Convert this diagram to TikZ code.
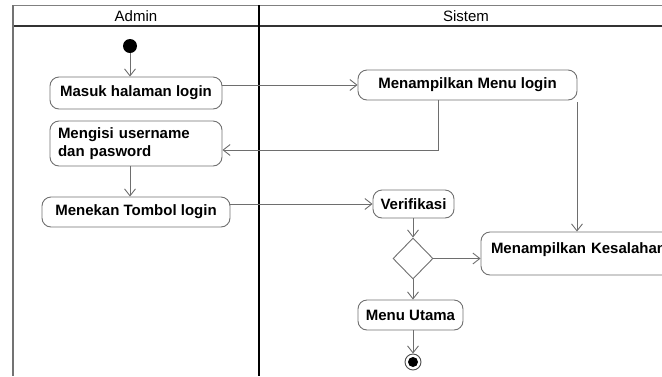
\documentclass[tikz,border=0pt]{standalone}
\usepackage{fontspec}
\setmainfont{Liberation Sans}
\usetikzlibrary{arrows.meta,shapes.geometric,calc}
\definecolor{edge}{HTML}{6E6E6E}
\definecolor{box}{HTML}{707070}
\begin{document}
\begin{tikzpicture}[x=1pt,y=-1pt,
  act/.style={draw=box,line width=0.9pt,rounded corners=9pt,font=\fontsize{15}{18}\selectfont\bfseries,inner sep=0pt,align=center},
  flow/.style={draw=edge,line width=0.9pt,-{Straight Barb[length=7pt,width=11pt]}},
  hdr/.style={font=\fontsize{15}{18}\selectfont}]
\useasboundingbox (0,0) rectangle (662,376);
\clip (0,0) rectangle (662,376);
% swimlanes
\draw[gray,line width=1pt] (13,5) -- (662,5);
\draw[black!80,line width=1.6pt] (13,26) -- (662,26);
\draw[gray!90!black,line width=1.4pt] (13,5) -- (13,376);
\draw[black,line width=1.8pt] (259,5) -- (259,376);
\node[hdr] (adm) at (136,16) {Admin};
\node[hdr] (sis) at (466,16) {Sistem};
% nodes
\node[circle,fill=black,minimum size=14pt,inner sep=0pt] (init) at (130,46) {};
\node[act,minimum width=172pt,minimum height=32pt] (masuk) at (136,93) {Masuk halaman login};
\node[act,minimum height=45pt,text width=156pt,inner xsep=8pt,align=left] (mengisi) at (136,143.5) {Mengisi username\\dan pasword};
\node[act,minimum width=188pt,minimum height=30pt] (menekan) at (136,212) {Menekan Tombol login};
\node[act,minimum width=219pt,minimum height=30pt] (menu) at (467.5,85) {Menampilkan Menu login};
\node[act,minimum width=81pt,minimum height=28pt] (verif) at (413.5,204) {Verifikasi};
\node[diamond,draw=box,line width=0.9pt,minimum width=40pt,minimum height=41pt,inner sep=0pt] (dec) at (413,258.5) {};
\node[act,minimum width=230pt,minimum height=43pt,text width=210pt,align=left,text depth=10pt] (kes) at (596,253.5) {Menampilkan Kesalahan};
\node[act,minimum width=105pt,minimum height=30pt] (utama) at (410.5,315) {Menu Utama};
\node[circle,draw=black!70,line width=0.9pt,minimum size=16pt,inner sep=0pt] (fin) at (413,362) {};
\node[circle,fill=black,minimum size=10pt,inner sep=0pt] (finin) at (fin) {};
% coordinates
\coordinate (c1) at (438,150);
\coordinate (c2) at (577,0);
% connectors
\draw[flow] (init) -- (init |- masuk.north);
\draw[flow] (masuk.east |- menu.west) -- (menu.west);
\draw[flow] (menu.south -| c1) -- (c1) -- (mengisi.east |- c1);
\draw[flow] (mengisi.south -| init) -- (menekan.north -| init);
\draw[flow] (menekan.east |- verif.west) -- (verif.west);
\draw[flow] ($(menu.south -| c2)+(0,2)$) -- (kes.north -| c2);
\draw[flow] (verif.south -| dec.north) -- (dec.north);
\draw[flow] (dec.east) -- (dec.east -| kes.west);
\draw[flow] (dec.south) -- (dec.south |- utama.north);
\draw[flow] (fin |- utama.south) -- (fin.north);
\end{tikzpicture}
\end{document}
